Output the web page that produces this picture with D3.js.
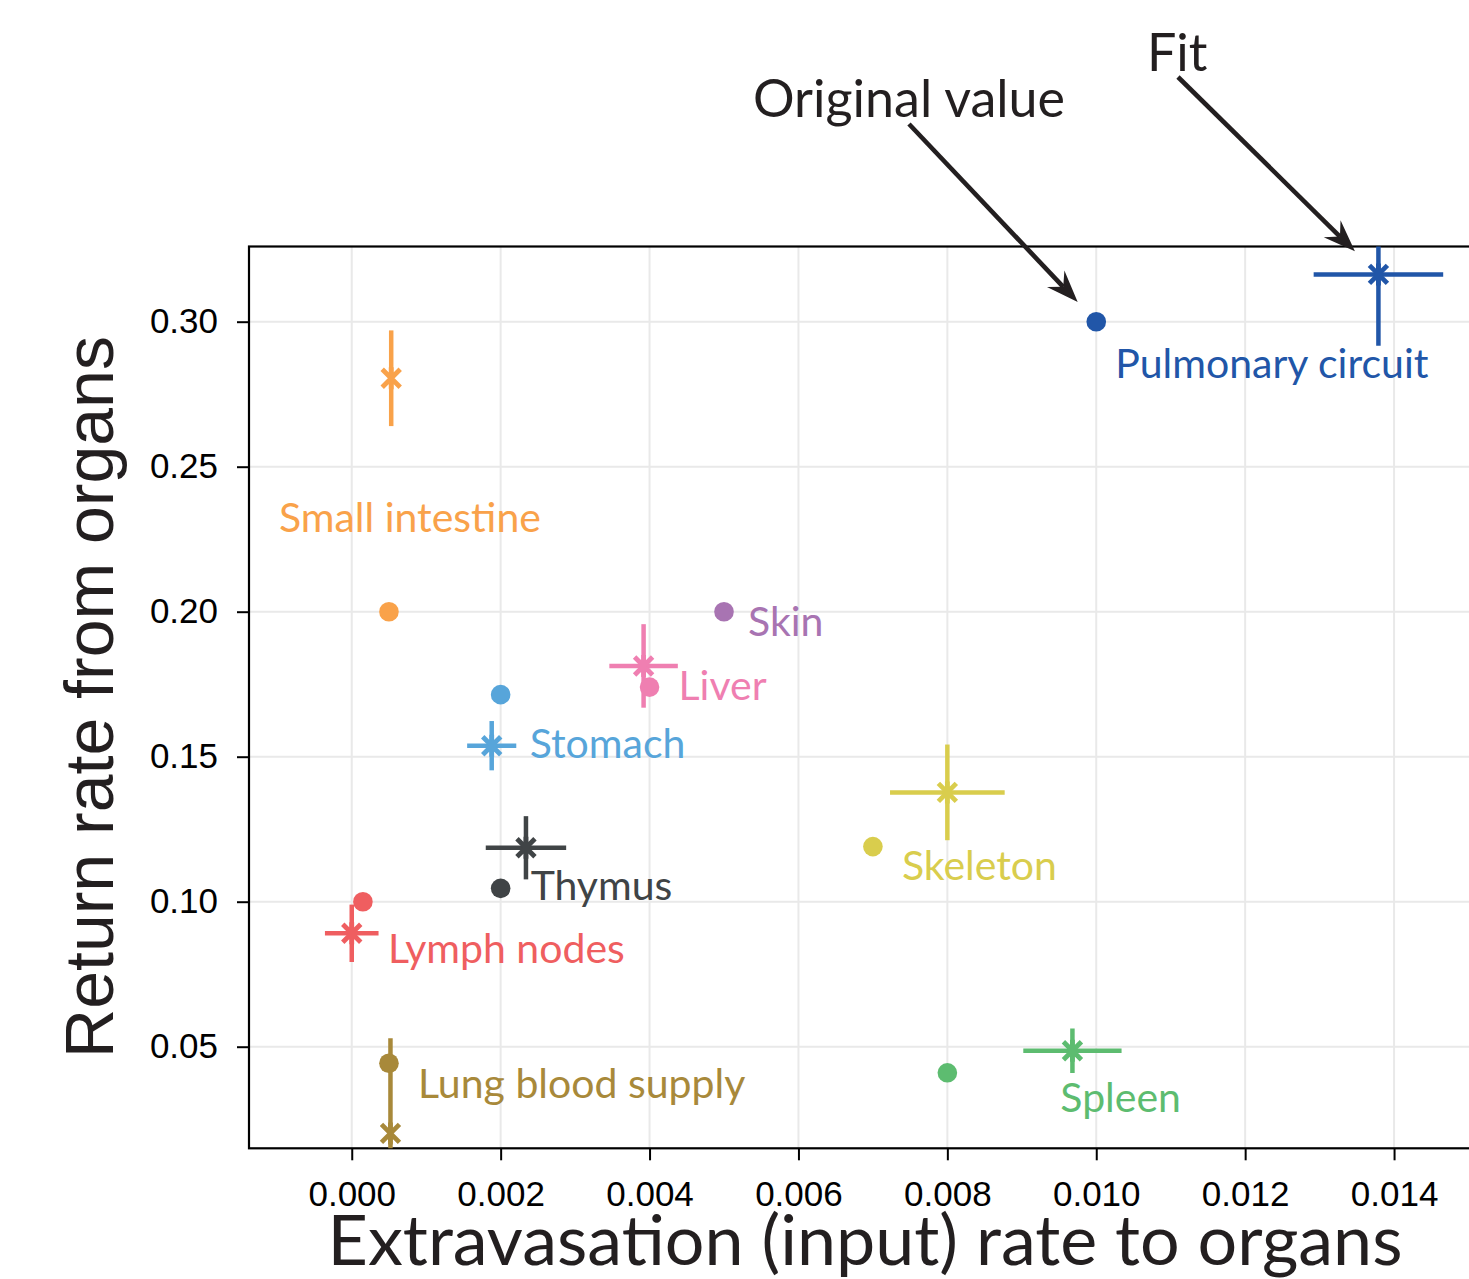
<!DOCTYPE html>
<html>
<head>
<meta charset="utf-8">
<script src="https://cdn.jsdelivr.net/npm/d3@7"></script>
<style>
  html, body { margin: 0; padding: 0; background: #fff; }
  svg { display: block; }
</style>
</head>
<body>
<svg id="chart" width="1469" height="1279"></svg>
<script>
// Organ compartments
const organs = ["Pulmonary circuit", "Small intestine", "Skin", "Liver", "Stomach",
                "Thymus", "Skeleton", "Lymph nodes", "Lung blood supply", "Spleen"];

// Original (literature) rates
const originalInput  = [0.0100, 0.0005, 0.0050, 0.0040, 0.0020, 0.0020, 0.0070, 0.00015, 0.0005, 0.0080];
const originalReturn = [0.300, 0.200, 0.200, 0.174, 0.1714, 0.1046, 0.119, 0.100, 0.0443, 0.041];

// Fitted rates with their uncertainties (null = no fit)
const fitInput       = [0.01379, 0.00053, null, 0.00392, 0.00188, 0.00234, 0.0080, 0.0000, 0.00052, 0.00968];
const fitInputErr    = [0.00087, 0, null, 0.00046, 0.00033, 0.00054, 0.00077, 0.00036, 0, 0.00066];
const fitReturn      = [0.3163, 0.2805, null, 0.1813, 0.1538, 0.1186, 0.1377, 0.0891, 0.0201, 0.0486];
const fitReturnErr   = [0.0246, 0.0165, null, 0.0144, 0.0085, 0.0109, 0.0165, 0.0099, 0.0328, 0.0077];

// Axis ticks
const xTicks = [0.000, 0.002, 0.004, 0.006, 0.008, 0.010, 0.012, 0.014];
const yTicks = [0.05, 0.10, 0.15, 0.20, 0.25, 0.30];

// Styling
const colors = ["#2156a8", "#f9a24a", "#a874b2", "#ef7fb1", "#57a5da",
                "#404446", "#d9cd4d", "#ef5e60", "#a8893a", "#5dbc70"];
// label placement relative to the original-value dot (px)
const labelOffsets = [[19, 56], [-110, -80], [24, 24], [29, 13], [29, 63],
                      [30, 12], [29, 33], [25, 61], [29, 35], [113, 39]];

const svg = d3.select("#chart");
const plot = { left: 249, right: 1471, top: 246.5, bottom: 1148.3 };

const x = d3.scaleLinear().domain([-0.00138, 0.01502]).range([249, 1470]);
const y = d3.scaleLinear().domain([0.01497, 0.32593]).range([plot.bottom, plot.top]);

const labelFont = "Lato, 'Open Sans', sans-serif";
const tickFont = "'Liberation Sans', Arial, sans-serif";

svg.append("defs").append("clipPath").attr("id", "plotClip")
  .append("rect")
  .attr("x", plot.left).attr("y", plot.top)
  .attr("width", plot.right - plot.left).attr("height", plot.bottom - plot.top);

// grid
const grid = svg.append("g");
grid.selectAll("line.gx").data(xTicks).join("line")
  .attr("x1", d => x(d)).attr("x2", d => x(d))
  .attr("y1", plot.top).attr("y2", plot.bottom)
  .attr("stroke", "#e9e9e9").attr("stroke-width", 2);
grid.selectAll("line.gy").data(yTicks).join("line")
  .attr("y1", d => y(d)).attr("y2", d => y(d))
  .attr("x1", plot.left).attr("x2", plot.right)
  .attr("stroke", "#e9e9e9").attr("stroke-width", 2);

// axes
const xAxis = d3.axisBottom(x).tickValues(xTicks).tickFormat(d3.format(".3f"))
  .tickSizeOuter(0).tickSizeInner(12).tickPadding(21);
const yAxis = d3.axisLeft(y).tickValues(yTicks).tickFormat(d3.format(".2f"))
  .tickSizeOuter(0).tickSizeInner(12).tickPadding(19);

const gx = svg.append("g").attr("transform", `translate(0,${plot.bottom})`).call(xAxis);
const gy = svg.append("g").attr("transform", `translate(${plot.left},0)`).call(yAxis);
[gx, gy].forEach(g => {
  g.select(".domain").remove();
  g.selectAll(".tick line").attr("stroke", "#000").attr("stroke-width", 2);
  g.selectAll(".tick text").attr("fill", "#000")
    .style("font-family", tickFont).style("font-size", "35px");
});

// frame
svg.append("rect")
  .attr("x", plot.left).attr("y", plot.top)
  .attr("width", plot.right - plot.left).attr("height", plot.bottom - plot.top)
  .attr("fill", "none").attr("stroke", "#000").attr("stroke-width", 2.2);

// marks
const rows = organs.map((name, i) => ({
  name, color: colors[i], off: labelOffsets[i],
  ox: originalInput[i], oy: originalReturn[i],
  fx: fitInput[i], fxe: fitInputErr[i], fy: fitReturn[i], fye: fitReturnErr[i]
}));

const marks = svg.append("g").attr("clip-path", "url(#plotClip)");
const fits = rows.filter(d => d.fx !== null);

// error bars
marks.selectAll("line.xerr").data(fits.filter(d => d.fxe > 0)).join("line")
  .attr("x1", d => x(d.fx - d.fxe)).attr("x2", d => x(d.fx + d.fxe))
  .attr("y1", d => y(d.fy)).attr("y2", d => y(d.fy))
  .attr("stroke", d => d.color).attr("stroke-width", 4.5);
marks.selectAll("line.yerr").data(fits).join("line")
  .attr("x1", d => x(d.fx)).attr("x2", d => x(d.fx))
  .attr("y1", d => y(d.fy - d.fye)).attr("y2", d => y(d.fy + d.fye))
  .attr("stroke", d => d.color).attr("stroke-width", 4.5);

// fit markers (asterisk)
marks.selectAll("path.fit").data(fits).join("path")
  .attr("transform", d => `translate(${x(d.fx)},${y(d.fy)})`)
  .attr("d", "M-9,-9L9,9M-9,9L9,-9M0,-11V11")
  .attr("stroke", d => d.color).attr("stroke-width", 4.8).attr("fill", "none");

// original values
marks.selectAll("circle.orig").data(rows).join("circle")
  .attr("cx", d => x(d.ox)).attr("cy", d => y(d.oy)).attr("r", 9.8)
  .attr("fill", d => d.color);

// organ labels
svg.append("g").selectAll("text").data(rows).join("text")
  .attr("x", d => x(d.ox) + d.off[0]).attr("y", d => y(d.oy) + d.off[1])
  .attr("fill", d => d.color)
  .style("font-family", labelFont).style("font-size", "41px")
  .text(d => d.name);

// axis titles
svg.append("text")
  .attr("x", 865).attr("y", 1265).attr("text-anchor", "middle")
  .attr("fill", "#231f20")
  .style("font-family", labelFont).style("font-size", "70px")
  .text("Extravasation (input) rate to organs");

svg.append("text")
  .attr("transform", "translate(113,697) rotate(-90)").attr("text-anchor", "middle")
  .attr("fill", "#231f20")
  .style("font-family", tickFont).style("font-size", "68px")
  .text("Return rate from organs");

// annotations pointing at the pulmonary circuit
const pulm = rows[0];
const annotations = [
  { text: "Original value", tx: 753, ty: 117, tail: [909, 124], px: x(pulm.ox), py: y(pulm.oy), shrink: 27 },
  { text: "Fit", tx: 1147, ty: 71, tail: [1178, 77], px: x(pulm.fx), py: y(pulm.fy), shrink: 33 }
];
const ann = svg.append("g");
annotations.forEach(a => {
  ann.append("text").attr("x", a.tx).attr("y", a.ty).attr("fill", "#231f20")
    .style("font-family", labelFont).style("font-size", "52px").text(a.text);
  const dx = a.px - a.tail[0], dy = a.py - a.tail[1];
  const len = Math.hypot(dx, dy), ux = dx / len, uy = dy / len;
  const tipX = a.px - ux * a.shrink, tipY = a.py - uy * a.shrink;
  const headLen = 32, headW = 12, notch = 21;
  ann.append("line")
    .attr("x1", a.tail[0]).attr("y1", a.tail[1])
    .attr("x2", tipX - ux * notch).attr("y2", tipY - uy * notch)
    .attr("stroke", "#231f20").attr("stroke-width", 4.6);
  const bx = tipX - ux * headLen, by = tipY - uy * headLen;
  const nx = -uy, ny = ux;
  ann.append("path")
    .attr("d", `M${tipX},${tipY}L${bx + nx * headW},${by + ny * headW}` +
               `L${tipX - ux * notch},${tipY - uy * notch}` +
               `L${bx - nx * headW},${by - ny * headW}Z`)
    .attr("fill", "#231f20");
});
</script>
</body>
</html>
